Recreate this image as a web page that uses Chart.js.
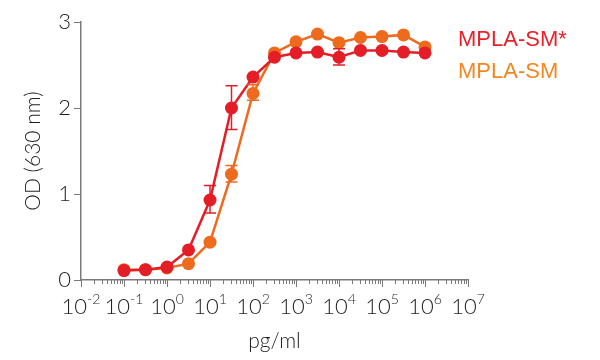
<!DOCTYPE html>
<html>
<head>
<meta charset="utf-8">
<script src="https://cdn.jsdelivr.net/npm/chart.js@4"></script>
<style>
  html, body { margin: 0; padding: 0; background: #fff; }
  #wrap { width: 600px; height: 360px; }
</style>
</head>
<body>
<div id="wrap"><canvas id="odChart"></canvas></div>
<script>
// dose in pg/ml (half-log steps)
const doses = [0.1, 0.316, 1, 3.16, 10, 31.6, 100, 316, 1000, 3162, 10000, 31623, 100000, 316228, 1000000];
const smStarOD = [0.11, 0.12, 0.15, 0.35, 0.93, 2.00, 2.36, 2.59, 2.64, 2.65, 2.59, 2.67, 2.67, 2.65, 2.64];
const smOD = [0.12, 0.12, 0.14, 0.19, 0.44, 1.23, 2.17, 2.64, 2.77, 2.86, 2.76, 2.82, 2.83, 2.85, 2.71];
// error bars [low, high], null where too small to see
const smStarErr = [null, null, null, null, [0.78, 1.10], [1.75, 2.26], null, null, null, null, [2.50, 2.69], null, null, null, null];
const smErr = [null, null, null, null, null, [1.14, 1.33], [2.09, 2.27], null, null, null, null, null, null, null, null];
const xExponents = [-2, -1, 0, 1, 2, 3, 4, 5, 6, 7];
const yTicks = [0, 1, 2, 3];

const RED = '#e41e26';
const ORANGE = '#ee6b1e';
const AXIS = '#7a7a7a';
const TEXT = '#1e1e1e';

const toPoints = (ys) => ys.map((y, i) => ({ x: doses[i], y }));

// error bars, drawn with the scales
const errorBars = {
    id: 'errorBars',
    afterDatasetsDraw(chart) {
        const { ctx, scales: { x, y } } = chart;
        const sets = [[smErr, ORANGE], [smStarErr, RED]];
        ctx.save();
        ctx.lineWidth = 1.5;
        sets.forEach(([errs, color]) => {
            ctx.strokeStyle = color;
            errs.forEach((e, i) => {
                if (!e) return;
                const px = x.getPixelForValue(doses[i]);
                const lo = y.getPixelForValue(e[0]);
                const hi = y.getPixelForValue(e[1]);
                ctx.beginPath();
                ctx.moveTo(px, lo); ctx.lineTo(px, hi);
                ctx.moveTo(px - 6, lo); ctx.lineTo(px + 6, lo);
                ctx.moveTo(px - 6, hi); ctx.lineTo(px + 6, hi);
                ctx.stroke();
            });
        });
        ctx.restore();
    }
};

// log axis ticks with superscript labels, plus the text legend
const logAxis = {
    id: 'logAxis',
    afterDraw(chart) {
        const { ctx, scales: { x } } = chart;
        const base = x.top;
        ctx.save();
        ctx.strokeStyle = AXIS;
        ctx.lineWidth = 1;
        xExponents.forEach((e) => {
            const px = Math.round(x.getPixelForValue(Math.pow(10, e))) + 0.5;
            ctx.beginPath();
            ctx.moveTo(px, base); ctx.lineTo(px, base + 7);
            ctx.stroke();
            if (e < 7) {
                for (let m = 2; m <= 9; m++) {
                    const mx = Math.round(x.getPixelForValue(m * Math.pow(10, e))) + 0.5;
                    ctx.beginPath();
                    ctx.moveTo(mx, base); ctx.lineTo(mx, base + 4);
                    ctx.stroke();
                }
            }
            // label 10^e
            const px0 = x.getPixelForValue(Math.pow(10, e));
            ctx.fillStyle = TEXT;
            ctx.font = '300 22px Lato';
            const mainW = ctx.measureText('10').width;
            ctx.font = '300 14px Lato';
            const sup = e < 0 ? '-' + Math.abs(e) : String(e);
            const supW = ctx.measureText(sup).width;
            const start = px0 - (mainW + supW) / 2;
            ctx.textAlign = 'left';
            ctx.textBaseline = 'alphabetic';
            ctx.font = '300 22px Lato';
            ctx.fillText('10', start, base + 34);
            ctx.font = '300 14px Lato';
            ctx.fillText(sup, start + mainW, base + 24);
        });

        ctx.font = '22px "Liberation Sans", Arial, sans-serif';
        ctx.textAlign = 'left';
        ctx.fillStyle = '#e8202a';
        ctx.fillText('MPLA-SM*', 458, 46);
        ctx.fillStyle = '#f5861f';
        ctx.fillText('MPLA-SM', 458, 78);
        ctx.restore();
    }
};

new Chart(document.getElementById('odChart').getContext('2d'), {
    type: 'line',
    data: {
        datasets: [
            {
                label: 'MPLA-SM*',
                data: toPoints(smStarOD),
                borderColor: RED,
                backgroundColor: RED,
                borderWidth: 2.5,
                pointRadius: 6.5,
                pointHoverRadius: 6.5,
                pointBorderWidth: 0,
                tension: 0,
            },
            {
                label: 'MPLA-SM',
                data: toPoints(smOD),
                borderColor: ORANGE,
                backgroundColor: ORANGE,
                borderWidth: 2.5,
                pointRadius: 6.5,
                pointHoverRadius: 6.5,
                pointBorderWidth: 0,
                tension: 0,
            }
        ]
    },
    options: {
        responsive: true,
        maintainAspectRatio: false,
        animation: false,
        layout: { padding: { top: 22, right: 132, bottom: 0, left: 0 } },
        plugins: {
            legend: { display: false },
            tooltip: { enabled: false },
        },
        scales: {
            x: {
                type: 'logarithmic',
                min: 0.01,
                max: 10000000,
                ticks: { display: false },
                grid: { display: false },
                border: { display: true, color: AXIS, width: 1.5 },
                title: {
                    display: true,
                    text: 'pg/ml',
                    color: TEXT,
                    font: { family: 'Lato', size: 21, weight: '300' },
                    padding: { top: 0, bottom: 6 },
                },
                afterFit: (axis) => { axis.height = 80; },
            },
            y: {
                min: 0,
                max: 3,
                afterBuildTicks: (axis) => { axis.ticks = yTicks.map((v) => ({ value: v })); },
                ticks: {
                    color: TEXT,
                    padding: 3,
                    font: { family: 'Lato', size: 22, weight: '300' },
                },
                grid: { drawOnChartArea: false, drawTicks: true, tickLength: 7, color: AXIS, lineWidth: 1 },
                border: { display: true, color: AXIS, width: 1.5 },
                title: {
                    display: true,
                    text: 'OD (630 nm)',
                    color: TEXT,
                    font: { family: 'Lato', size: 21, weight: '300' },
                    padding: { top: 21, bottom: 0 },
                },
                afterFit: (axis) => { axis.width = 81; },
            },
        },
    },
    plugins: [errorBars, logAxis],
});
</script>
</body>
</html>
